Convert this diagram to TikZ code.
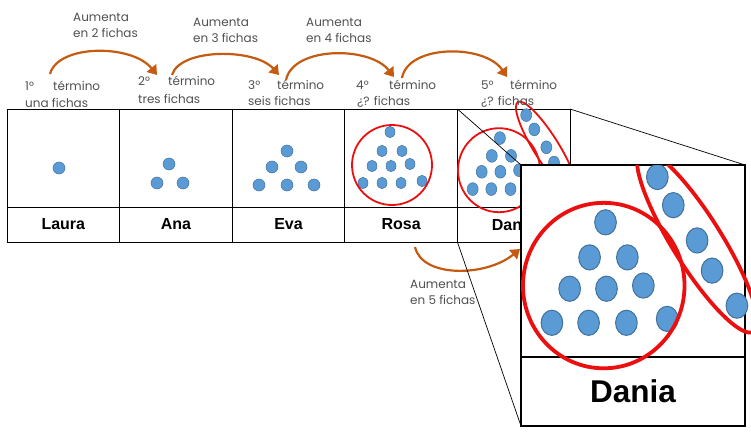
\documentclass[tikz,border=0pt]{standalone}
\usepackage{fontspec}
\setmainfont{Poppins}
\newfontfamily\arialfam{Liberation Sans}
\usetikzlibrary{arrows.meta, positioning}
\definecolor{fichaazul}{RGB}{91,155,213}
\definecolor{fichaborde}{RGB}{65,113,156}
\definecolor{flecha}{RGB}{197,90,17}
\definecolor{texto}{RGB}{80,80,80}
\definecolor{marcarojo}{RGB}{235,15,15}

% fichas de Dania, en coordenadas de la celda (#1 = grosor rojo, #2 = borde ficha)
\newcommand{\daniafichas}[2]{%
  \foreach \fx/\fy in {42.9/29.1, 34.8/46.9, 54/46.9, 24.7/62.8, 43.4/62.8, 62.1/61.2,
      15.7/80.1, 34.3/80.1, 53.5/80.1, 74.2/78.1,
      69.2/6.1, 77.3/20.4, 89.4/38.3, 97/53.6, 109.6/71.4}
    \filldraw[ficha, line width=#2] (\fx,\fy) ellipse [x radius=5.5, y radius=6.4];
  \draw[marca, line width=#1] (42,61.2) ellipse [x radius=41, y radius=42];
  \draw[marca, line width=#1, rotate around={-58:(89.4,38.8)}] (89.4,38.8) ellipse [x radius=54, y radius=12.5];
}

\begin{document}
\begin{tikzpicture}[
    x=1pt, y=-1pt,
    celda/.style={rectangle, draw=black, line width=0.8pt, minimum width=112.6pt, minimum height=98pt, inner sep=0pt, outer sep=0pt},
    nombre/.style={celda, minimum height=35pt, font=\arialfam\bfseries\fontsize{16}{16}\selectfont},
    ficha/.style={fill=fichaazul, draw=fichaborde, line width=0.5pt},
    marca/.style={draw=marcarojo, line width=1.8pt},
    etiqueta/.style={anchor=base west, inner sep=0pt, text=texto, font=\fontsize{12}{14}\selectfont},
    flechaarco/.style={draw=flecha, line width=2.2pt, -{Triangle[width=12pt, length=9pt]}},
    zoomlinea/.style={draw=black, line width=0.7pt}
]
\useasboundingbox (0,0) rectangle (751,433);

% tabla
\node[celda] (fig1) at (63.3,158) {};
\node[celda, right=0pt of fig1] (fig2) {};
\node[celda, right=0pt of fig2] (fig3) {};
\node[celda, right=0pt of fig3] (fig4) {};
\node[celda, right=0pt of fig4] (fig5) {};
\node[nombre, below=0pt of fig1] (nom1) {Laura};
\node[nombre, below=0pt of fig2] (nom2) {Ana};
\node[nombre, below=0pt of fig3] (nom3) {Eva};
\node[nombre, below=0pt of fig4] (nom4) {Rosa};
\node[nombre, below=0pt of fig5] (nom5) {Dania};

% fichas
\filldraw[ficha] (59,168) circle [radius=6];
\foreach \fx/\fy in {169/164, 157/183, 183/183}
  \filldraw[ficha] (\fx,\fy) circle [radius=6];
\foreach \fx/\fy in {287/151, 272/167, 301/167, 259/185, 287/185, 314/185}
  \filldraw[ficha] (\fx,\fy) circle [radius=6];
\foreach \fx/\fy in {390/132, 382/151, 402/151, 372/166, 391/166, 410/164, 363/183, 382/183, 401/183, 422/181}
  \filldraw[ficha] (\fx,\fy) ellipse [x radius=5, y radius=5.8];
\draw[marca] (392,165) circle [radius=40];
\begin{scope}[shift={(457,109)}]
  \daniafichas{1.8pt}{0.5pt}
\end{scope}

% terminos
\node[etiqueta] (n1) at (25,91) {1°};
\node[etiqueta] (t1) at (53,91) {término};
\node[etiqueta] (f1) at (25,107) {una fichas};
\node[etiqueta] (n2) at (138,86) {2°};
\node[etiqueta] (t2) at (168,86) {término};
\node[etiqueta] (f2) at (138,103) {tres fichas};
\node[etiqueta] (n3) at (248,90) {3°};
\node[etiqueta] (t3) at (277,90) {término};
\node[etiqueta] (f3) at (248,106) {seis fichas};
\node[etiqueta] (n4) at (356,89) {4°};
\node[etiqueta] (t4) at (389,89) {término};
\node[etiqueta] (f4) at (357,106) {¿? fichas};
\node[etiqueta] (n5) at (481,89) {5°};
\node[etiqueta] (t5) at (510,89) {término};
\node[etiqueta] (f5) at (481,106) {¿? fichas};

% aumentos
\node[etiqueta] (a1) at (73,22) {Aumenta};
\node[etiqueta] (a1b) at (73,38) {en 2 fichas};
\node[etiqueta] (a2) at (193,27) {Aumenta};
\node[etiqueta] (a2b) at (193,43) {en 3 fichas};
\node[etiqueta] (a3) at (306,27) {Aumenta};
\node[etiqueta] (a3b) at (306,43) {en 4 fichas};
\node[etiqueta] (a4) at (410,288) {Aumenta};
\node[etiqueta] (a4b) at (410,304) {en 5 fichas};

\coordinate (s1) at (50,74);   \coordinate (e1) at (157,75);
\coordinate (s2) at (172,75);  \coordinate (e2) at (279,75);
\coordinate (s3) at (286,80);  \coordinate (e3) at (394,77);
\coordinate (s4) at (402,78);  \coordinate (e4) at (507,77);
\coordinate (s5) at (415,247); \coordinate (e5) at (520,249);
\draw[flechaarco] (s1) .. controls +(8,-30) and +(-25,-31) .. (e1);
\draw[flechaarco] (s2) .. controls +(8,-27) and +(-24,-27) .. (e2);
\draw[flechaarco] (s3) .. controls +(7,-34) and +(-24,-31) .. (e3);
\draw[flechaarco] (s4) .. controls +(6,-34) and +(-22,-33) .. (e4);
\draw[flechaarco] (s5) .. controls +(7,31) and +(-34,28) .. (e5);

% lupa
\node[celda, fill=white, line width=1.2pt, minimum width=224pt, minimum height=192pt] (lupafig) at (633,261) {};
\node[nombre, fill=white, line width=1.2pt, minimum width=224pt, minimum height=69pt,
      font=\arialfam\bfseries\fontsize{31.5}{31.5}\selectfont, below=0pt of lupafig] (lupanom) {Dania};
\draw[zoomlinea] (fig5.north west) -- (lupafig.north west);
\draw[zoomlinea] (fig5.north east) -- (lupafig.north east);
\draw[zoomlinea] (nom5.south west) -- (lupanom.south west);
\begin{scope}
  \clip (521,165) rectangle (760,440);
  \begin{scope}[shift={(521,165)}, scale=1.97]
    \daniafichas{3.8pt}{1pt}
  \end{scope}
\end{scope}

\end{tikzpicture}
\end{document}
